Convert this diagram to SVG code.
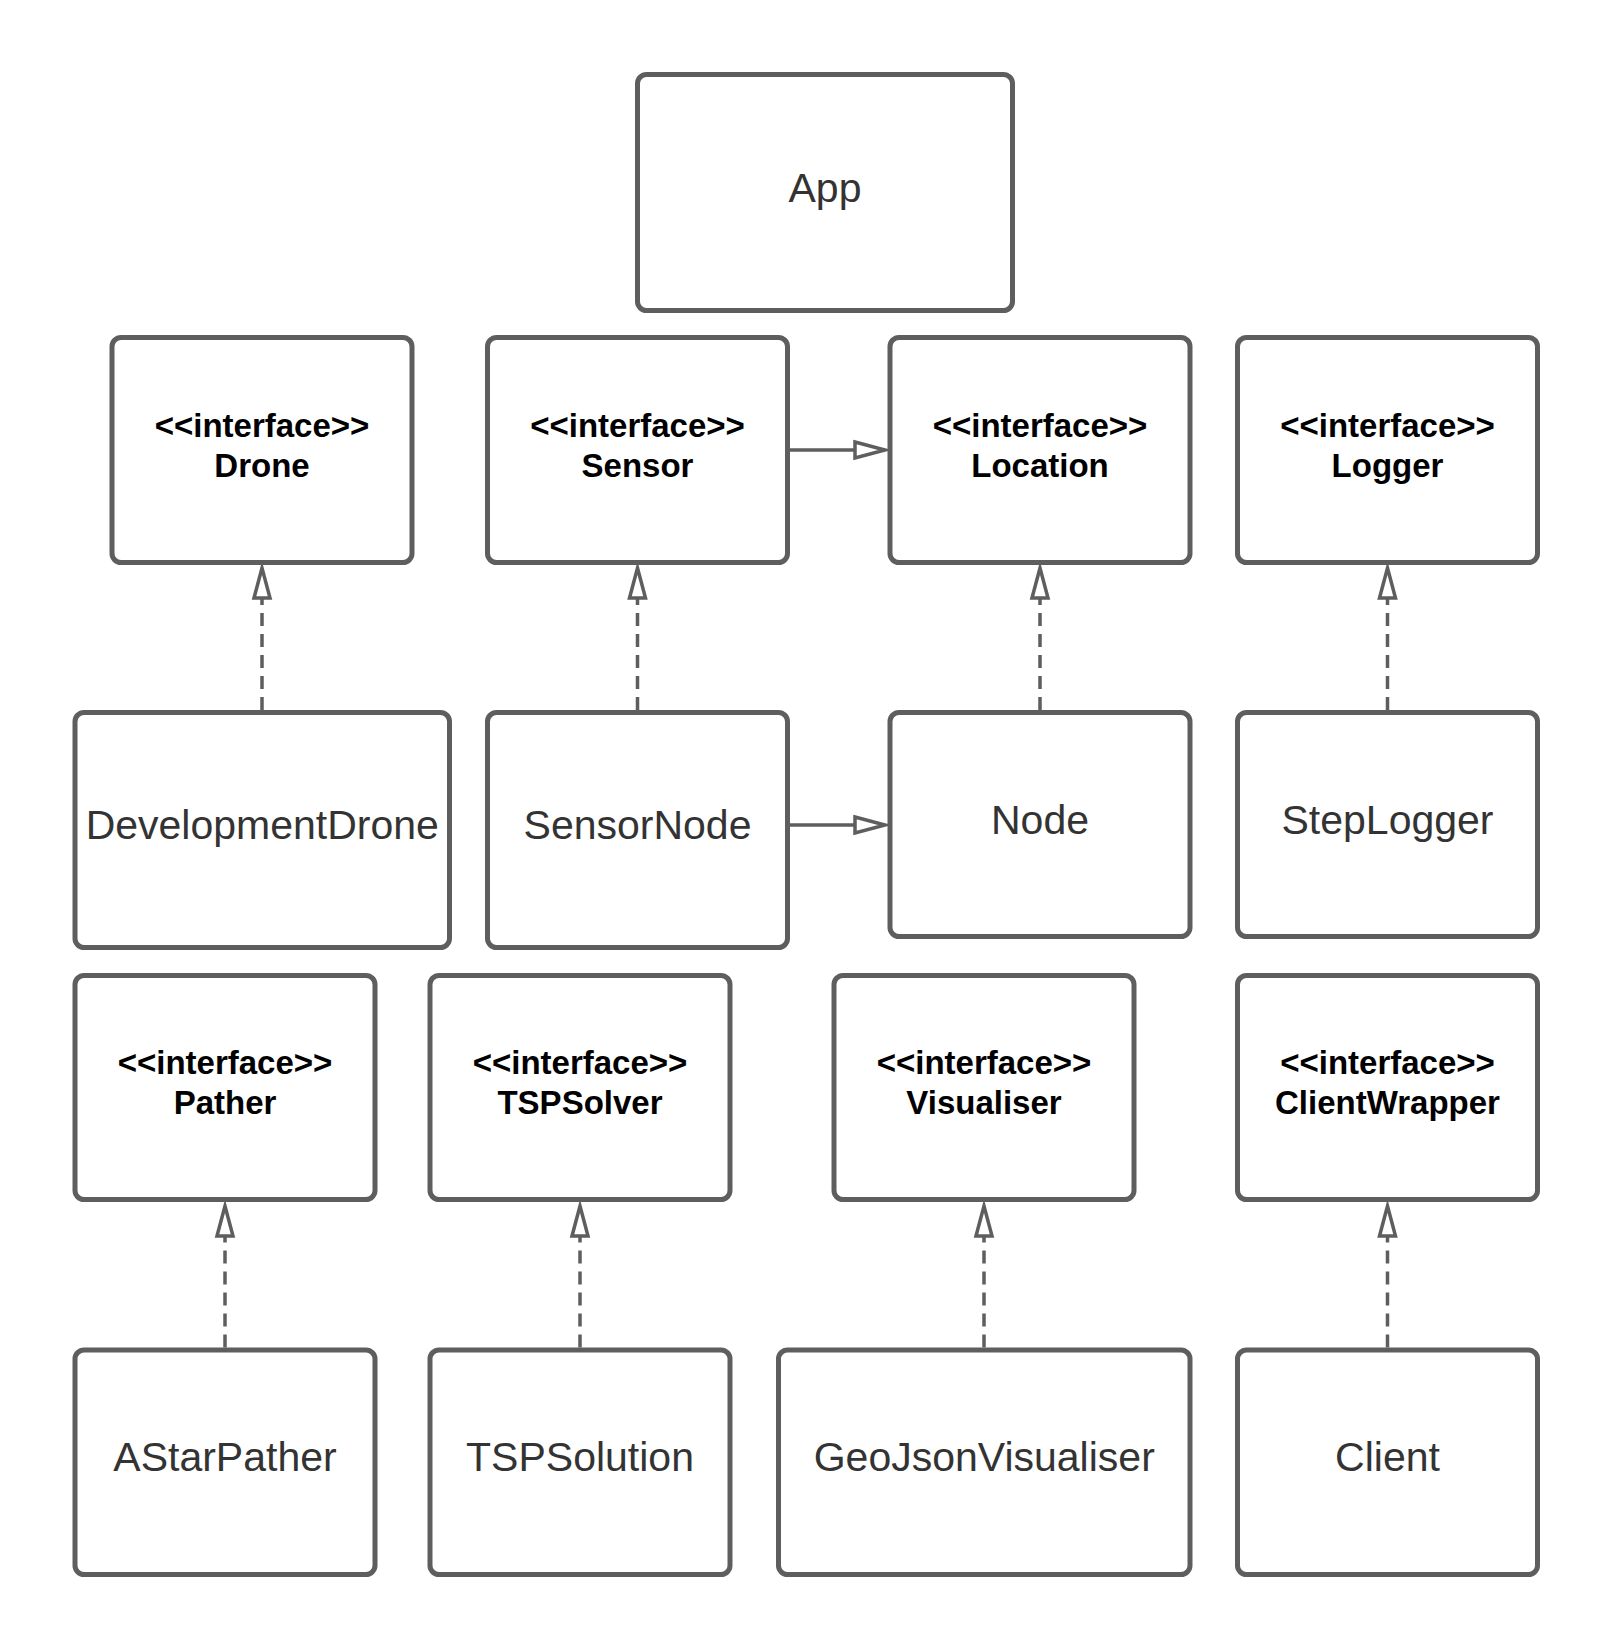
<svg xmlns="http://www.w3.org/2000/svg" width="1613" height="1650" viewBox="0 0 1613 1650">
  <style>
    .box { fill: #ffffff; stroke: #5e5e5e; stroke-width: 5; }
    .cls { font-family: "Liberation Sans", Arial, sans-serif; font-size: 41px; fill: #333333; text-anchor: middle; }
    .ifc { font-family: "Liberation Sans", Arial, sans-serif; font-size: 33px; font-weight: bold; fill: #000000; text-anchor: middle; }
    .dep { fill: none; stroke: #5e5e5e; stroke-width: 3.5; }
    .real { fill: none; stroke: #5e5e5e; stroke-width: 3.5; stroke-dasharray: 13 8; }
  </style>
  <defs>
    <marker id="hollow" markerUnits="userSpaceOnUse" viewBox="-4 -4 40 24" refX="30" refY="8" markerWidth="40" markerHeight="24" orient="auto" overflow="visible">
      <path d="M0,0 L30,8 L0,16 Z" fill="#ffffff" stroke="#5e5e5e" stroke-width="3.5" stroke-linejoin="miter"/>
    </marker>
  </defs>
  <rect width="1613" height="1650" fill="#ffffff"/>

  <g id="connectors">
    <line class="dep" x1="790" y1="450" x2="885" y2="450" marker-end="url(#hollow)"/>
    <line class="dep" x1="790" y1="825" x2="885" y2="825" marker-end="url(#hollow)"/>
    <line class="real" x1="262" y1="710" x2="262" y2="568" marker-end="url(#hollow)"/>
    <line class="real" x1="637.5" y1="710" x2="637.5" y2="568" marker-end="url(#hollow)"/>
    <line class="real" x1="1040" y1="710" x2="1040" y2="568" marker-end="url(#hollow)"/>
    <line class="real" x1="1387.5" y1="710" x2="1387.5" y2="568" marker-end="url(#hollow)"/>
    <line class="real" x1="225" y1="1347.5" x2="225" y2="1206" marker-end="url(#hollow)"/>
    <line class="real" x1="580" y1="1347.5" x2="580" y2="1206" marker-end="url(#hollow)"/>
    <line class="real" x1="984" y1="1347.5" x2="984" y2="1206" marker-end="url(#hollow)"/>
    <line class="real" x1="1387.5" y1="1347.5" x2="1387.5" y2="1206" marker-end="url(#hollow)"/>
  </g>

  <g id="App">
    <rect class="box" x="637.5" y="74.5" width="375" height="236" rx="9"/>
    <text class="cls" x="825" y="201.5">App</text>
  </g>

  <g id="Drone">
    <rect class="box" x="112" y="337.5" width="300" height="225" rx="9"/>
    <text class="ifc" x="262" y="436.7">&lt;&lt;interface&gt;&gt;</text>
    <text class="ifc" x="262" y="476.7">Drone</text>
  </g>
  <g id="Sensor">
    <rect class="box" x="487.5" y="337.5" width="300" height="225" rx="9"/>
    <text class="ifc" x="637.5" y="436.7">&lt;&lt;interface&gt;&gt;</text>
    <text class="ifc" x="637.5" y="476.7">Sensor</text>
  </g>
  <g id="Location">
    <rect class="box" x="890" y="337.5" width="300" height="225" rx="9"/>
    <text class="ifc" x="1040" y="436.7">&lt;&lt;interface&gt;&gt;</text>
    <text class="ifc" x="1040" y="476.7">Location</text>
  </g>
  <g id="Logger">
    <rect class="box" x="1237.5" y="337.5" width="300" height="225" rx="9"/>
    <text class="ifc" x="1387.5" y="436.7">&lt;&lt;interface&gt;&gt;</text>
    <text class="ifc" x="1387.5" y="476.7">Logger</text>
  </g>

  <g id="DevelopmentDrone">
    <rect class="box" x="75" y="712.5" width="374.5" height="235" rx="9"/>
    <text class="cls" x="262.25" y="839">DevelopmentDrone</text>
  </g>
  <g id="SensorNode">
    <rect class="box" x="487.5" y="712.5" width="300" height="235" rx="9"/>
    <text class="cls" x="637.5" y="838.5">SensorNode</text>
  </g>
  <g id="Node">
    <rect class="box" x="890" y="712.5" width="300" height="224" rx="9"/>
    <text class="cls" x="1040" y="833.5">Node</text>
  </g>
  <g id="StepLogger">
    <rect class="box" x="1237.5" y="712.5" width="300" height="224" rx="9"/>
    <text class="cls" x="1387.5" y="833.5">StepLogger</text>
  </g>

  <g id="Pather">
    <rect class="box" x="75" y="975.5" width="300" height="224" rx="9"/>
    <text class="ifc" x="225" y="1074">&lt;&lt;interface&gt;&gt;</text>
    <text class="ifc" x="225" y="1114">Pather</text>
  </g>
  <g id="TSPSolver">
    <rect class="box" x="430" y="975.5" width="300" height="224" rx="9"/>
    <text class="ifc" x="580" y="1074">&lt;&lt;interface&gt;&gt;</text>
    <text class="ifc" x="580" y="1114">TSPSolver</text>
  </g>
  <g id="Visualiser">
    <rect class="box" x="834" y="975.5" width="300" height="224" rx="9"/>
    <text class="ifc" x="984" y="1074">&lt;&lt;interface&gt;&gt;</text>
    <text class="ifc" x="984" y="1114">Visualiser</text>
  </g>
  <g id="ClientWrapper">
    <rect class="box" x="1237.5" y="975.5" width="300" height="224" rx="9"/>
    <text class="ifc" x="1387.5" y="1074">&lt;&lt;interface&gt;&gt;</text>
    <text class="ifc" x="1387.5" y="1114">ClientWrapper</text>
  </g>

  <g id="AStarPather">
    <rect class="box" x="75" y="1350" width="300" height="224.5" rx="9"/>
    <text class="cls" x="225" y="1471">AStarPather</text>
  </g>
  <g id="TSPSolution">
    <rect class="box" x="430" y="1350" width="300" height="224.5" rx="9"/>
    <text class="cls" x="580" y="1471">TSPSolution</text>
  </g>
  <g id="GeoJsonVisualiser">
    <rect class="box" x="778.5" y="1350" width="411.5" height="224.5" rx="9"/>
    <text class="cls" x="984.25" y="1471">GeoJsonVisualiser</text>
  </g>
  <g id="Client">
    <rect class="box" x="1237.5" y="1350" width="300" height="224.5" rx="9"/>
    <text class="cls" x="1387.5" y="1471">Client</text>
  </g>
</svg>
